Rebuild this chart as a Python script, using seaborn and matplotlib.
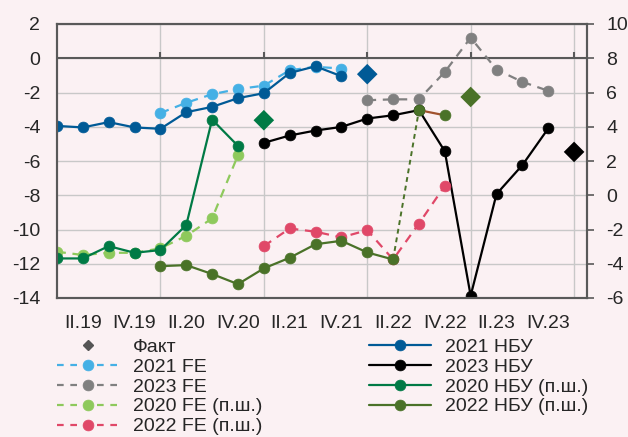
import numpy as np
import pandas as pd
import matplotlib
matplotlib.use("Agg")
import matplotlib.pyplot as plt
from matplotlib.lines import Line2D
import seaborn as sns

sns.set_theme(style="white")
plt.rcParams['font.family'] = ['Liberation Sans', 'DejaVu Sans']
plt.rcParams['axes.unicode_minus'] = False

# Квартали: 0 = I.19 ... 20 = I.24
tick_pos = [1, 3, 5, 7, 9, 11, 13, 15, 17, 19]
tick_labels = ['II.19', 'IV.19', 'II.20', 'IV.20', 'II.21', 'IV.21',
               'II.22', 'IV.22', 'II.23', 'IV.23']
year_starts = [4, 8, 12, 16, 20]

# ліва шкала
nbu_2021 = [-3.95, -4.04, -3.73, -4.04, -4.12, -3.15, -2.84, -2.33, -2.04, -0.86, -0.47, -1.05]
nbu_2021_start = 0
fe_2021 = [-3.2, -2.6, -2.1, -1.8, -1.6, -0.7, -0.5, -0.6]
fe_2021_start = 4
fe_2023 = [-2.45, -2.4, -2.4, -0.8, 1.2, -0.66, -1.38, -1.9]
fe_2023_start = 12
nbu_2023 = [-4.94, -4.51, -4.22, -4.01, -3.52, -3.33, -3.03, -5.43, -13.87, -7.93, -6.24, -4.10]
nbu_2023_start = 8

# права шкала (п.ш.)
nbu_2020 = [-3.69, -3.69, -2.97, -3.36, -3.2, -1.74, 4.42, 2.88]
nbu_2020_start = 0
fe_2020 = [-3.3, -3.49, -3.36, -3.36, -3.1, -2.37, -1.35, 2.34]
fe_2020_start = 0
nbu_2022 = [-4.14, -4.08, -4.6, -5.19, -4.27, -3.65, -2.86, -2.66, -3.34, -3.75, 4.97, 4.67]
nbu_2022_start = 4
fe_2022 = [-2.97, -1.94, -2.13, -2.46, -2.04, -3.75, -1.65, 0.55]
fe_2022_start = 8

# Факт
fact_left_q = [12, 20]
fact_left_v = [-0.93, -5.47]
fact_right_q = [8, 16]
fact_right_v = [4.38, 5.74]

c_nbu21 = '#005a96'
c_fe21 = '#45b0e5'
c_fe23 = '#808080'
c_nbu23 = '#000000'
c_nbu20 = '#007a45'
c_fe20 = '#8ec95c'
c_nbu22 = '#4a7228'
c_fe22 = '#e04868'
bg = '#fbf1f3'
dark = '#595959'
dash = (0, (4, 3))


def series(vals, start):
    return pd.DataFrame({'q': np.arange(start, start + len(vals)), 'v': vals})


def draw(ax, vals, start, color, ls='-', lw=1.6):
    d = series(vals, start)
    sns.lineplot(data=d, x='q', y='v', ax=ax, color=color, linestyle=ls, lw=lw,
                 marker='o', markersize=7.8, markeredgecolor=color, markeredgewidth=0.5)


fig = plt.figure(figsize=(6.28, 4.37), dpi=100, facecolor=bg)
ax = fig.add_axes([57 / 628, 1 - 298 / 437, (587 - 57) / 628, (298 - 24) / 437])
ax.set_facecolor(bg)
ax2 = ax.twinx()
ax2.patch.set_visible(False)

ax.set_xlim(0, 20.5)
ax.set_ylim(-14, 2)
ax2.set_ylim(-6, 10)

# сітка
for y in range(-14, 3, 2):
    ax.axhline(y, color='#c8c8c8', lw=1, zorder=0)
for x in year_starts:
    ax.axvline(x, color='#c8c8c8', lw=1, zorder=0)
ax.axhline(0, color=dark, lw=1.5, zorder=1)
ax.vlines(year_starts, 0, 0.35, color=dark, lw=1.5, zorder=1)

# ліва шкала
draw(ax, fe_2021, fe_2021_start, c_fe21, ls=dash)
draw(ax, nbu_2021, nbu_2021_start, c_nbu21)
draw(ax, fe_2023, fe_2023_start, c_fe23, ls=dash)
draw(ax, nbu_2023, nbu_2023_start, c_nbu23)
sns.scatterplot(x=fact_left_q, y=fact_left_v, ax=ax, marker='D', s=110,
                linewidth=0, zorder=5)
ax.collections[-1].set_color([c_nbu21, c_nbu23])

# права шкала
draw(ax2, fe_2020, fe_2020_start, c_fe20, ls=dash)
draw(ax2, nbu_2020, nbu_2020_start, c_nbu20)
draw(ax2, fe_2022, fe_2022_start, c_fe22, ls=dash)
d22 = series(nbu_2022, nbu_2022_start)
sns.lineplot(data=d22.iloc[:10], x='q', y='v', ax=ax2, color=c_nbu22, lw=1.6,
             marker='o', markersize=7.8, markeredgecolor=c_nbu22, markeredgewidth=0.5)
ax2.plot(d22['q'].iloc[9:11], d22['v'].iloc[9:11], color=c_nbu22, lw=1.4, ls=(0, (2.5, 2)))
ax2.plot(d22['q'].iloc[10:12], d22['v'].iloc[10:12], color='#a0522d', lw=1.6)
ax2.plot(d22['q'].iloc[10:12], d22['v'].iloc[10:12], ls='none', marker='o', ms=7.8,
         color=c_nbu22, mec=c_nbu22, mew=0.5)
sns.scatterplot(x=fact_right_q, y=fact_right_v, ax=ax2, marker='D', s=110,
                linewidth=0, zorder=5)
ax2.collections[-1].set_color([c_nbu20, c_nbu22])

# осі
for a in (ax, ax2):
    for sp in a.spines.values():
        sp.set_color(dark)
        sp.set_linewidth(1.5)
    a.set_xlabel('')
    a.set_ylabel('')
ax.set_xticks(tick_pos)
ax.set_xticklabels(tick_labels)
ax.set_yticks(range(-14, 3, 2))
ax2.set_yticks(range(-6, 11, 2))
ax.tick_params(axis='x', length=0, pad=12, labelsize=14)
ax.tick_params(axis='y', length=0, pad=12, labelsize=14)
ax2.tick_params(axis='y', length=5, width=1.2, color=dark, pad=9, labelsize=14, right=True)
ax.grid(False)
ax2.grid(False)

# легенда
def h(color, ls, marker='o', ms=7.8):
    return Line2D([], [], color=color, ls=ls, lw=1.6, marker=marker, ms=ms,
                  mec=color, mew=0.5)

handles = [
    Line2D([], [], color='#555555', ls='none', marker='D', ms=5),
    h(c_fe21, (0, (3, 3))),
    h(c_fe23, (0, (3, 3))),
    h(c_fe20, (0, (3, 3))),
    h(c_fe22, (0, (3, 3))),
    h(c_nbu21, '-'),
    h(c_nbu23, '-'),
    h(c_nbu20, '-'),
    h(c_nbu22, '-'),
]
labels = ['Факт', '2021 FE', '2023 FE', '2020 FE (п.ш.)', '2022 FE (п.ш.)',
          '2021 НБУ', '2023 НБУ', '2020 НБУ (п.ш.)', '2022 НБУ (п.ш.)']
fig.legend(handles, labels, loc='upper left', bbox_to_anchor=(57 / 628, 1 - 338 / 437),
           ncol=2, frameon=False, fontsize=14, handlelength=3.2, handletextpad=0.7,
           columnspacing=5.5, labelspacing=0.12, borderpad=0, borderaxespad=0)

fig.savefig('out.png', dpi=100, facecolor=bg)
